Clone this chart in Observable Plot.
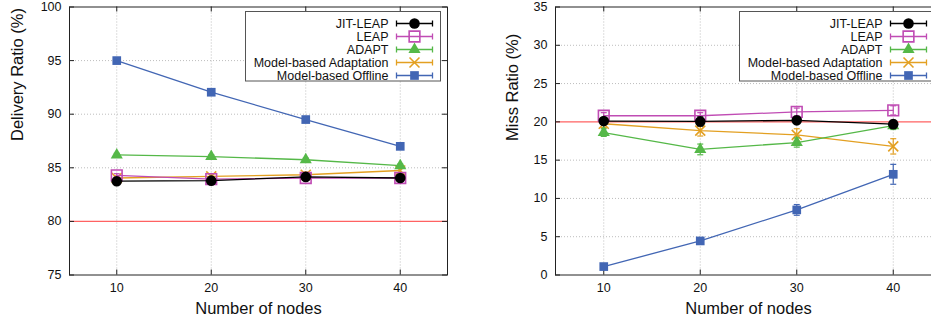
<!DOCTYPE html>
<html><head><meta charset="utf-8">
<script src="https://cdn.jsdelivr.net/npm/d3@7"></script>
<script src="https://cdn.jsdelivr.net/npm/@observablehq/plot@0.6"></script>
<style>
html,body{margin:0;padding:0;background:#fff;overflow:hidden;}
#wrap{position:relative;width:931px;height:324px;overflow:hidden;background:#fff;}
#left{position:absolute;left:0;top:0;width:465px;height:324px;}
#right{position:absolute;left:465px;top:0;width:476px;height:324px;}
#wrap svg{max-width:none !important;display:block;}
</style></head><body>
<div id="wrap"><div id="left"></div><div id="right"></div></div>
<script>
// ---- data ----
const nodes = [10, 20, 30, 40];
const seriesNames = ["JIT-LEAP", "LEAP", "ADAPT", "Model-based Adaptation", "Model-based Offline"];

// Delivery ratio (%)
const deliveryJIT        = [83.75, 83.8, 84.15, 84.05];
const deliveryLEAP       = [84.3, 83.95, 84.05, 84.05];
const deliveryADAPT      = [86.2, 86.05, 85.75, 85.2];
const deliveryAdaptation = [84.05, 84.2, 84.35, 84.75];
const deliveryOffline    = [95.0, 92.05, 89.5, 87.0];
const deliveryErrJIT        = [0.15, 0.15, 0.15, 0.15];
const deliveryErrLEAP       = [0.15, 0.15, 0.2, 0.15];
const deliveryErrADAPT      = [0.15, 0.15, 0.15, 0.15];
const deliveryErrAdaptation = [0.2, 0.25, 0.25, 0.2];
const deliveryErrOffline    = [0.1, 0.1, 0.1, 0.1];

// Miss ratio (%)
const missJIT        = [20.1, 20.05, 20.2, 19.7];
const missLEAP       = [20.8, 20.8, 21.3, 21.5];
const missADAPT      = [18.6, 16.4, 17.3, 19.5];
const missAdaptation = [19.75, 18.85, 18.3, 16.8];
const missOffline    = [1.1, 4.45, 8.5, 13.15];
const missErrJIT        = [0.3, 0.6, 0.4, 0.5];
const missErrLEAP       = [0.4, 0.4, 0.5, 0.6];
const missErrADAPT      = [0.5, 0.7, 0.6, 0.5];
const missErrAdaptation = [0.5, 0.7, 0.8, 1.0];
const missErrOffline    = [0.15, 0.3, 0.7, 1.3];

const deliveryTicks = [75, 80, 85, 90, 95, 100];
const missTicks = [0, 5, 10, 15, 20, 25, 30, 35];
const deliveryTarget = 80;
const missTarget = 20;

// ---- styles ----
const FONT = "'Liberation Sans', Arial, Helvetica, sans-serif";
const styles = {
  "JIT-LEAP":               {color: "#000000", symbol: "circle",   r: 5.3, filled: true},
  "LEAP":                   {color: "#c04cb4", symbol: "square2",  r: 6.8, filled: false},
  "ADAPT":                  {color: "#55b848", symbol: "triangle", r: 4.5, filled: true},
  "Model-based Adaptation": {color: "#e3a022", symbol: "times",    r: 4.6, filled: false},
  "Model-based Offline":    {color: "#4266b4", symbol: "square",   r: 4.9, filled: true}
};
const drawOrder = ["Model-based Offline", "Model-based Adaptation", "ADAPT", "LEAP", "JIT-LEAP"];

const capSymbol = {draw(ctx) { ctx.moveTo(-3, 0); ctx.lineTo(3, 0); }};
const legendSymbol = {draw(ctx) {
  ctx.moveTo(-18, 0); ctx.lineTo(18, 0);
  ctx.moveTo(-18, -3); ctx.lineTo(-18, 3);
  ctx.moveTo(18, -3); ctx.lineTo(18, 3);
}};

function rows(vals, errs) {
  return nodes.map((x, i) => ({x, y: vals[i], lo: vals[i] - errs[i], hi: vals[i] + errs[i]}));
}

function panel({series, yDomain, yTicks, yLabel, target, width, marginLeft, marginRight, yLabelDx}) {
  const height = 324, marginTop = 6.5, marginBottom = 49.5;
  const plotW = width - marginLeft - marginRight;
  const plotH = height - marginTop - marginBottom;
  const marks = [];
  marks.push(Plot.gridX(nodes, {stroke: "#bdbdbd", strokeOpacity: 1, strokeDasharray: "1,2"}));
  marks.push(Plot.gridY(yTicks.slice(1, -1).filter(t => t !== target), {stroke: "#bdbdbd", strokeOpacity: 1, strokeDasharray: "1,2"}));
  marks.push(Plot.ruleY([target], {stroke: "#ff6262", strokeWidth: 1.3}));
  // inward ticks (mirrored)
  marks.push(Plot.tickY(yTicks, {y: d => d, insetRight: plotW - 5, stroke: "#222"}));
  marks.push(Plot.tickY(yTicks, {y: d => d, insetLeft: plotW - 5, stroke: "#222"}));
  marks.push(Plot.tickX(nodes, {x: d => d, insetTop: plotH - 5, stroke: "#222"}));
  marks.push(Plot.tickX(nodes, {x: d => d, insetBottom: plotH - 5, stroke: "#222"}));
  // data
  for (const name of drawOrder) {
    const s = styles[name];
    const d = series[name];
    marks.push(Plot.line(d, {x: "x", y: "y", stroke: s.color, strokeWidth: 1.3}));
    marks.push(Plot.ruleX(d, {x: "x", y1: "lo", y2: "hi", stroke: s.color, strokeWidth: 1.2}));
    marks.push(Plot.dot(d, {x: "x", y: "lo", symbol: capSymbol, stroke: s.color, fill: "none", strokeWidth: 1.2}));
    marks.push(Plot.dot(d, {x: "x", y: "hi", symbol: capSymbol, stroke: s.color, fill: "none", strokeWidth: 1.2}));
    marks.push(Plot.dot(d, {x: "x", y: "y", symbol: s.symbol, r: s.r,
      fill: s.filled ? s.color : "none", stroke: s.filled ? "none" : s.color, strokeWidth: 1.6}));
  }
  // legend
  marks.push(Plot.frame({insetLeft: plotW - 202, insetRight: 7, insetTop: 4.5, insetBottom: plotH - 74,
    fill: "white", stroke: "#555", strokeWidth: 1}));
  seriesNames.forEach((name, i) => {
    const s = styles[name];
    const dy = 16.5 + 13 * i;
    marks.push(Plot.text([name], {text: d => d, frameAnchor: "top-right", dx: -59, dy,
      textAnchor: "end", lineAnchor: "middle", fontSize: 12.5, fill: "#111"}));
    marks.push(Plot.dot([name], {frameAnchor: "top-right", dx: -33, dy, symbol: legendSymbol,
      stroke: s.color, fill: "none", strokeWidth: 1.3}));
    marks.push(Plot.dot([name], {frameAnchor: "top-right", dx: -33, dy, symbol: s.symbol, r: s.r,
      fill: s.filled ? s.color : "none", stroke: s.filled ? "none" : s.color, strokeWidth: 1.6}));
  });
  marks.push(Plot.frame({stroke: "#222", strokeWidth: 1}));
  // axes
  marks.push(Plot.axisX(nodes, {tickSize: 0, tickPadding: 8, fontSize: 12.5, label: null, fill: "#111"}));
  marks.push(Plot.axisY(yTicks, {tickSize: 0, tickPadding: 8, fontSize: 12.5, label: null, fill: "#111"}));
  marks.push(Plot.text(["Number of nodes"], {text: d => d, frameAnchor: "bottom", lineAnchor: "middle", dy: 33.5, fontSize: 16.5, fill: "#111"}));
  marks.push(Plot.text([yLabel], {text: d => d, frameAnchor: "left", lineAnchor: "middle", dx: yLabelDx, rotate: -90, fontSize: 16.5, fill: "#111"}));

  return Plot.plot({
    width, height, marginTop, marginBottom, marginLeft, marginRight,
    style: {fontFamily: FONT, background: "white", color: "#111", overflow: "visible", maxWidth: "none"},
    x: {domain: [5, 45], axis: null},
    y: {domain: yDomain, axis: null},
    marks
  });
}

const deliverySeries = {
  "JIT-LEAP": rows(deliveryJIT, deliveryErrJIT),
  "LEAP": rows(deliveryLEAP, deliveryErrLEAP),
  "ADAPT": rows(deliveryADAPT, deliveryErrADAPT),
  "Model-based Adaptation": rows(deliveryAdaptation, deliveryErrAdaptation),
  "Model-based Offline": rows(deliveryOffline, deliveryErrOffline)
};
const missSeries = {
  "JIT-LEAP": rows(missJIT, missErrJIT),
  "LEAP": rows(missLEAP, missErrLEAP),
  "ADAPT": rows(missADAPT, missErrADAPT),
  "Model-based Adaptation": rows(missAdaptation, missErrAdaptation),
  "Model-based Offline": rows(missOffline, missErrOffline)
};

document.getElementById("left").appendChild(panel({
  series: deliverySeries, yDomain: [75, 100], yTicks: deliveryTicks, yLabel: "Delivery Ratio (%)",
  target: deliveryTarget, width: 465, marginLeft: 69, marginRight: 18, yLabelDx: -52
}));
document.getElementById("right").appendChild(panel({
  series: missSeries, yDomain: [0, 35], yTicks: missTicks, yLabel: "Miss Ratio (%)",
  target: missTarget, width: 476, marginLeft: 90, marginRight: 0, yLabelDx: -43
}));
</script>
</body></html>
